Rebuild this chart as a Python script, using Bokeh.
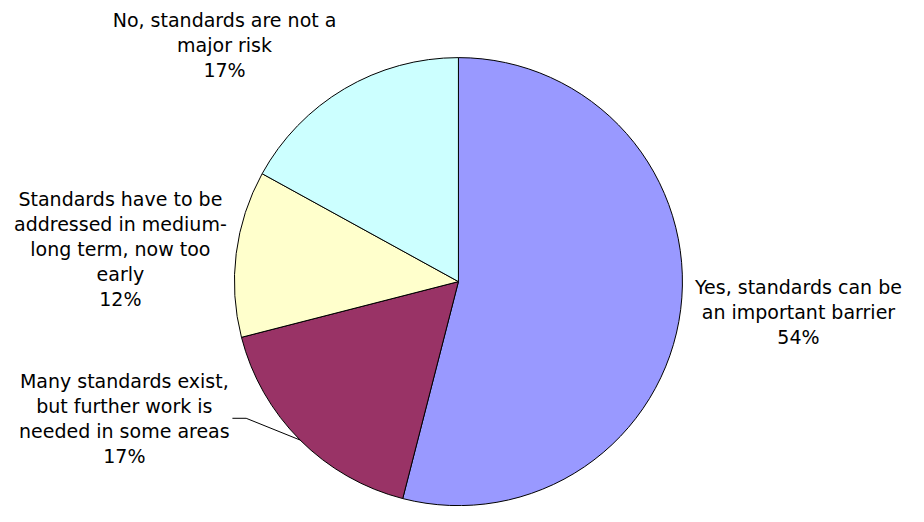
import math
from bokeh.plotting import figure
from bokeh.models import Range1d, ColumnDataSource
from bokeh.embed import file_html
from bokeh.resources import INLINE
from bokeh.core.properties import value

# ---- data ----
categories = [
    "Yes, standards can be an important barrier",
    "Many standards exist, but further work is needed in some areas",
    "Standards have to be addressed in medium-long term, now too early",
    "No, standards are not a major risk",
]
shares = [54, 17, 12, 17]
label_lines = [
    ["Yes, standards can be", "an important barrier"],
    ["Many standards exist,", "but further work is", "needed in some areas"],
    ["Standards have to be", "addressed in medium-", "long term, now too", "early"],
    ["No, standards are not a", "major risk"],
]
colors = ["#9999FF", "#993366", "#FFFFCC", "#CCFFFF"]

# ---- layout ----
W, H = 908, 506
SX, SY = W / 924.0, H / 522.0          # fit the 924x522 design into the canvas
CX, CY, R = 466 * SX, 290 * SY, 224
label_pos = [(812, 296), (126, 393), (122, 205), (228, 20)]   # design px
LINE_STEP = 25.8 * SY


def Y(py):
    # canvas pixel row (from top) -> data y
    return H - py


p = figure(width=W, height=H, output_backend="svg", toolbar_location=None,
           x_range=Range1d(0, W), y_range=Range1d(0, H),
           min_border=0, background_fill_color="white", border_fill_color="white")
p.axis.visible = False
p.grid.visible = False
p.outline_line_color = None

total = float(sum(shares))
starts, ends, mids = [], [], []
acc = 0.0
for s in shares:
    a0 = acc / total * 2 * math.pi
    acc += s
    a1 = acc / total * 2 * math.pi
    starts.append(math.pi / 2 - a1)
    ends.append(math.pi / 2 - a0)
    mids.append((a0 + a1) / 2)

src = ColumnDataSource(dict(start=starts, end=ends, color=colors, cat=categories, share=shares))
p.wedge(x=CX, y=Y(CY), radius=R, start_angle="start", end_angle="end",
        fill_color="color", line_color="black", line_width=1, source=src)

# labels
tx, ty, tt = [], [], []
for (lx, ly), lines, s in zip(label_pos, label_lines, shares):
    all_lines = lines + [f"{s}%"]
    for i, t in enumerate(all_lines):
        tx.append(lx * SX)
        ty.append(Y(ly * SY + i * LINE_STEP))
        tt.append(t)
p.text(x=tx, y=ty, text=tt, text_align="center", text_baseline="middle",
       text_font=value("DejaVu Sans"), text_font_size="19px", text_color="black")

# leader line for the "Many standards" slice
m = mids[1]
ex = CX + R * math.sin(m)
ey = CY - R * math.cos(m)
p.line(x=[236 * SX, 250 * SX, ex], y=[Y(431 * SY), Y(431 * SY), Y(ey)],
       line_color="black", line_width=1)

open("out.html", "w").write(file_html(p, INLINE))
